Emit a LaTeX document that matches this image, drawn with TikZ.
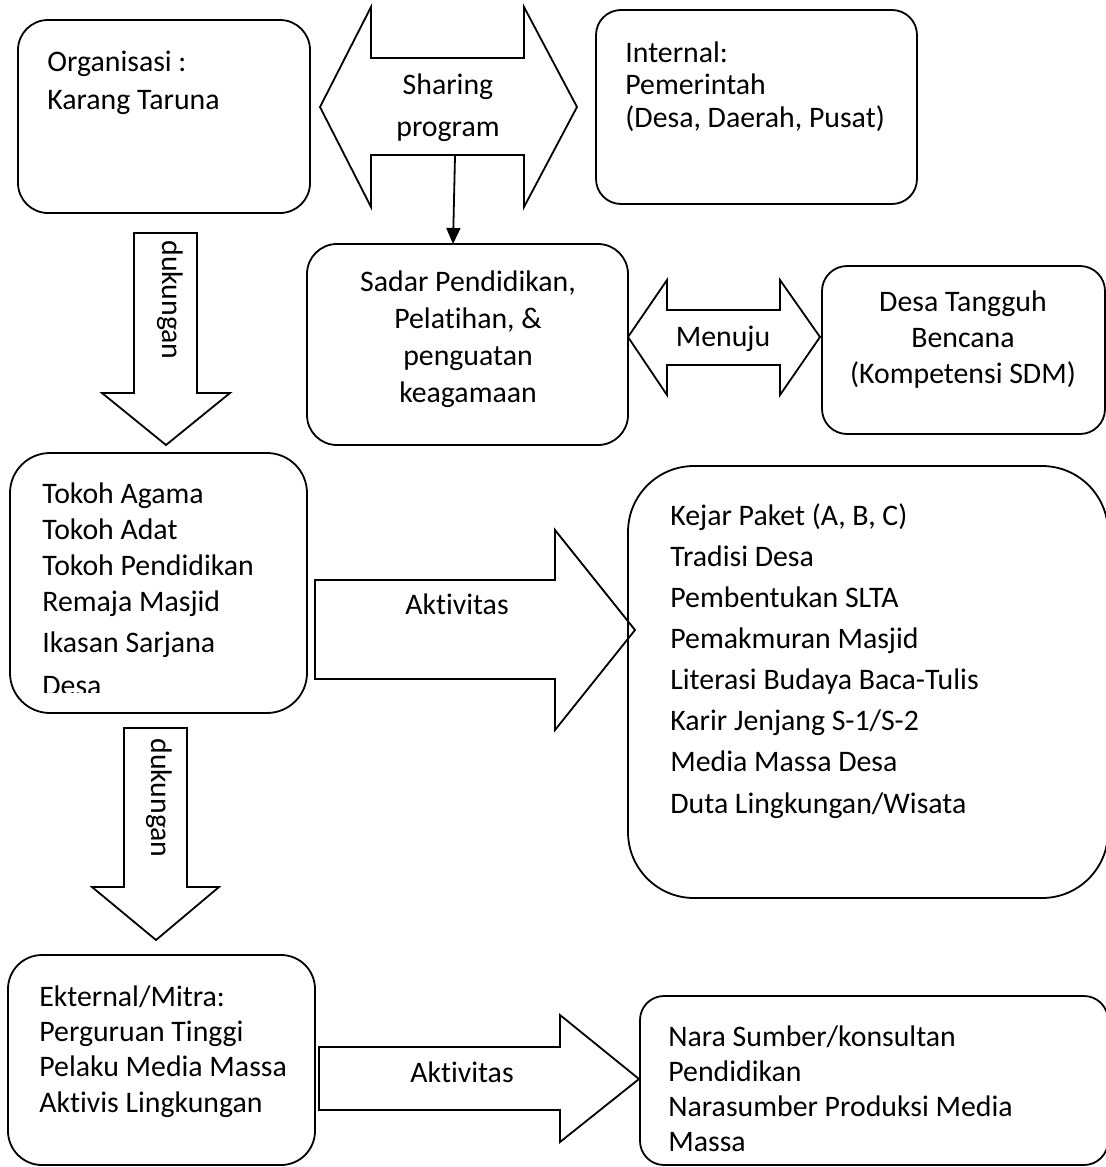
\documentclass[tikz,border=0pt]{standalone}
\usepackage{fontspec}
\setmainfont{Carlito}[Ligatures=NoCommon]
\usetikzlibrary{fit,arrows.meta}
\begin{document}
\begin{tikzpicture}[x=0.5pt,y=-0.5pt,
  rbox/.style={draw, line width=0.9pt, inner sep=0pt, rounded corners=#1},
  blockarrow/.style={draw, line width=0.9pt, line join=miter},
  txt/.style={inner sep=0pt, align=left, anchor=base west},
  ctxt/.style={inner sep=0pt, align=center, anchor=base},
  fs/.style={font=\fontsize{14.9pt}{#1}\selectfont},
]
\useasboundingbox (0,0) rectangle (1106,1167);
\clip (0,0) rectangle (1106,1167);

% boxes
\node[rbox=15pt, fit={(18,20) (310,213)}] (org) {};
\node[rbox=12.5pt, fit={(596,10) (917,204)}] (internal) {};
\node[rbox=15pt, fit={(307,244) (628,445)}] (sadar) {};
\node[rbox=12.5pt, fit={(822,266) (1105,434)}] (desa) {};
\node[rbox=20pt, fit={(10,453) (307,713)}] (tokoh) {};
\node[rbox=33pt, fit={(628,466) (1108,898)}] (kejar) {};
\node[rbox=17pt, fit={(8,955) (315,1165)}] (ekst) {};
\node[rbox=12pt, fit={(640,996) (1108,1165)}] (nara) {};

% block arrows
\draw[blockarrow] (320,107) -- (371,7) -- (371,58) -- (524,58) -- (524,7) -- (577,107)
  -- (524,207) -- (524,155) -- (371,155) -- (371,207) -- cycle;
\draw[blockarrow] (628,337) -- (667,280) -- (667,310) -- (780,310) -- (780,280) -- (820,337)
  -- (780,395) -- (780,365) -- (667,365) -- (667,395) -- cycle;
\draw[blockarrow] (315,580) -- (555,580) -- (555,530) -- (635,630) -- (555,730) -- (555,679)
  -- (315,679) -- cycle;
\draw[blockarrow] (319,1047) -- (560,1047) -- (560,1015) -- (639,1079) -- (560,1142)
  -- (560,1110) -- (319,1110) -- cycle;
\draw[blockarrow] (134,233) -- (197,233) -- (197,393) -- (230,393) -- (166,445) -- (102,393)
  -- (134,393) -- cycle;
\draw[blockarrow] (124,728) -- (187,728) -- (187,887) -- (219,887) -- (156,940) -- (92,887)
  -- (124,887) -- cycle;

% thin arrow
\coordinate (shareout) at (455,156);
\coordinate (sadartop) at (453,244);
\draw[line width=0.9pt, -{Triangle[length=8pt,width=7pt]}] (shareout) -- (sadartop);

% texts (anchor = baseline of the last line)
\node[txt, fs=19pt] (torg) at (47,109) {Organisasi :\\Karang Taruna};
\node[txt, fs=16.25pt] (tint) at (625,127) {Internal:\\Pemerintah\\(Desa, Daerah, Pusat)};
\node[ctxt, fs=21pt] (tshare) at (448,136) {Sharing\\program};
\node[ctxt, fs=18.35pt] (tsadar) at (468,402) {Sadar Pendidikan,\\Pelatihan, \&\\penguatan\\keagamaan};
\node[ctxt, fs=18pt] (tmenuju) at (723,346) {Menuju};
\node[ctxt, fs=18pt] (tdesa) at (963,383) {Desa Tangguh\\Bencana\\(Kompetensi SDM)};
\node[txt, fs=17.85pt] (ttokoh) at (42,611) {Tokoh Agama\\Tokoh Adat\\Tokoh Pendidikan\\Remaja Masjid};
\node[txt, fs=18pt] (tikasan) at (42,652) {Ikasan Sarjana};
\begin{scope}
\clip (0,0) rectangle (1106,692);
\node[txt, fs=18pt] (tdesa2) at (42,695) {Desa};
\end{scope}
\node[ctxt, fs=18pt] (takt1) at (457,614) {Aktivitas};
\node[txt, fs=20.55pt] (tkejar) at (670,813) {Kejar Paket (A, B, C)\\Tradisi Desa\\Pembentukan SLTA\\Pemakmuran Masjid\\Literasi Budaya Baca-Tulis\\Karir Jenjang S-1/S-2\\Media Massa Desa\\Duta Lingkungan/Wisata};
\node[fs=18pt, inner sep=0pt, rotate=-90] (tduk1) at (170,300) {dukungan};
\node[fs=18pt, inner sep=0pt, rotate=-90] (tduk2) at (159,798) {dukungan};
\node[txt, fs=17.65pt] (tekst) at (39,1112) {Ekternal/Mitra:\\Perguruan Tinggi\\Pelaku Media Massa\\Aktivis Lingkungan};
\node[ctxt, fs=18pt] (takt2) at (462,1082) {Aktivitas};
\node[txt, fs=17.5pt] (tnara) at (668,1151) {Nara Sumber/konsultan\\Pendidikan\\Narasumber Produksi Media\\Massa};
\end{tikzpicture}
\end{document}
